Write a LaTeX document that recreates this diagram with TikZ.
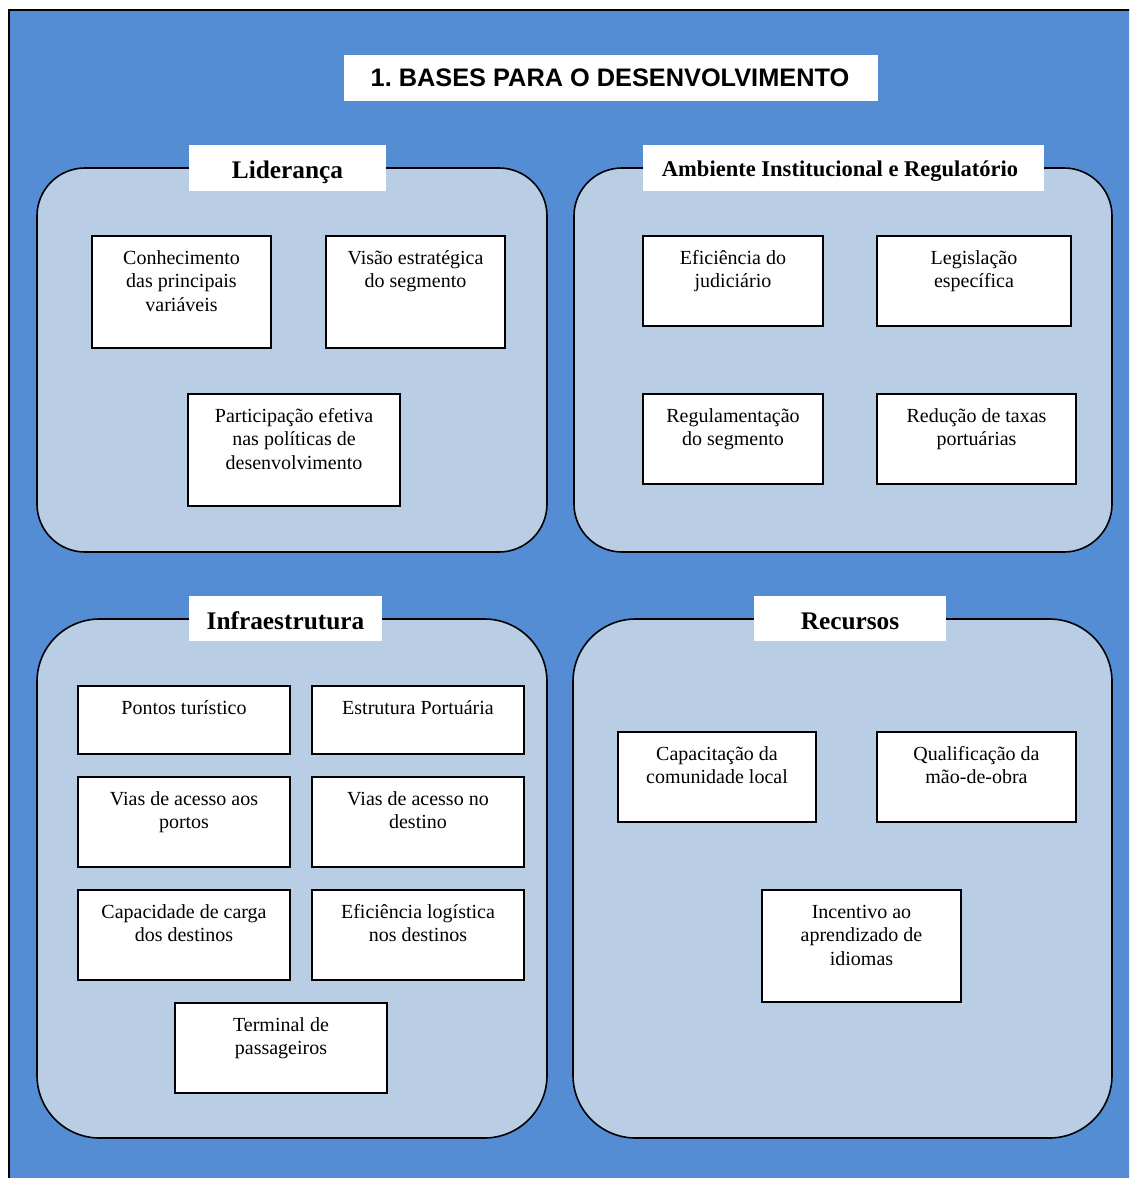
\documentclass[tikz,border=0pt]{standalone}
\usepackage{fontspec}
\setmainfont{Liberation Serif}
\newfontfamily\titlefont{Liberation Sans}
\usetikzlibrary{fit,calc}
\frenchspacing

\definecolor{bgblue}{RGB}{84,141,212}
\definecolor{panelblue}{RGB}{185,205,228}

\tikzset{
  panel/.style={draw=black, line width=1.2pt, fill=panelblue, inner sep=0pt},
  headbox/.style={fill=white, inner sep=0pt},
  headtext/.style={anchor=base, inner sep=0pt, font=\fontsize{19}{22}\selectfont\bfseries},
  titletext/.style={anchor=base, inner sep=0pt, font=\titlefont\fontsize{19}{22}\selectfont\bfseries},
  cellbox/.style={draw=black, line width=1.1pt, fill=white, inner sep=0pt},
  celltext/.style={anchor=base, inner sep=0pt, font=\fontsize{15}{17.6}\selectfont},
}

% a white item box with its text set from the top
\newcommand\infocell[6]{%
  \node[cellbox, fit={(#2,#3) (#4,#5)}] (#1) {};
  \node[celltext] (#1-t) at ($(#1.north)+(0,29)$)
    {\begin{tabular}[t]{@{}c@{}}#6\end{tabular}};
}

\begin{document}
\begin{tikzpicture}[x=0.75pt,y=-0.75pt]
\useasboundingbox (0,0) rectangle (1129,1178);

% background frame
\begin{scope}
  \clip (0,0) rectangle (1129,1178);
  \node[draw=black, line width=1.5pt, fill=bgblue, inner sep=0pt,
        fit={(9,10) (1150,1200)}] (frame) {};
\end{scope}

% title
\node[headbox, fit={(344,55) (878,101)}] (titlebox) {};
\node[titletext] (title) at (610,86) {1. BASES PARA O DESENVOLVIMENTO};

% four panels
\node[panel, rounded corners=36pt, fit={(37,168) (547,552)}] (lid) {};
\node[panel, rounded corners=36pt, fit={(574,168) (1112,552)}] (amb) {};
\node[panel, rounded corners=47pt, fit={(37,619) (547,1138)}] (inf) {};
\node[panel, rounded corners=47pt, fit={(573,619) (1112,1138)}] (rec) {};

% panel headings
\node[headbox, fit={(189,145) (386,191)}] (lidH) {};
\node[headtext] (lidT) at (lidH.center |- 0,178) {Liderança};
\node[headbox, fit={(643,145) (1044,191)}] (ambH) {};
\node[headtext, font=\fontsize{16.9}{20}\selectfont\bfseries] (ambT) at (840,176) {Ambiente Institucional e Regulatório};
\node[headbox, fit={(189,596) (382,641)}] (infH) {};
\node[headtext] (infT) at (infH.center |- 0,629) {Infraestrutura};
\node[headbox, fit={(754,596) (946,641)}] (recH) {};
\node[headtext] (recT) at (recH.center |- 0,629) {Recursos};

% Lideranca
\infocell{l1}{92}{236}{271}{348}{Conhecimento\\das principais\\variáveis}
\infocell{l2}{326}{236}{505}{348}{Visão estratégica\\do segmento}
\infocell{l3}{188}{394}{400}{506}{Participação efetiva\\nas políticas de\\desenvolvimento}

% Ambiente institucional e regulatorio
\infocell{a1}{643}{236}{823}{326}{Eficiência do\\judiciário}
\infocell{a2}{877}{236}{1071}{326}{Legislação\\específica}
\infocell{a3}{643}{394}{823}{484}{Regulamentação\\do segmento}
\infocell{a4}{877}{394}{1076}{484}{Redução de taxas\\portuárias}

% Infraestrutura
\infocell{i1}{78}{686}{290}{754}{Pontos turístico}
\infocell{i2}{312}{686}{524}{754}{Estrutura Portuária}
\infocell{i3}{78}{777}{290}{867}{Vias de acesso aos\\portos}
\infocell{i4}{312}{777}{524}{867}{Vias de acesso no\\destino}
\infocell{i5}{78}{890}{290}{980}{Capacidade de carga\\dos destinos}
\infocell{i6}{312}{890}{524}{980}{Eficiência logística\\nos destinos}
\infocell{i7}{175}{1003}{387}{1093}{Terminal de\\passageiros}

% Recursos
\infocell{r1}{618}{732}{816}{822}{Capacitação da\\comunidade local}
\infocell{r2}{877}{732}{1076}{822}{Qualificação da\\mão-de-obra}
\infocell{r3}{762}{890}{961}{1002}{Incentivo ao\\aprendizado de\\idiomas}

\end{tikzpicture}
\end{document}
